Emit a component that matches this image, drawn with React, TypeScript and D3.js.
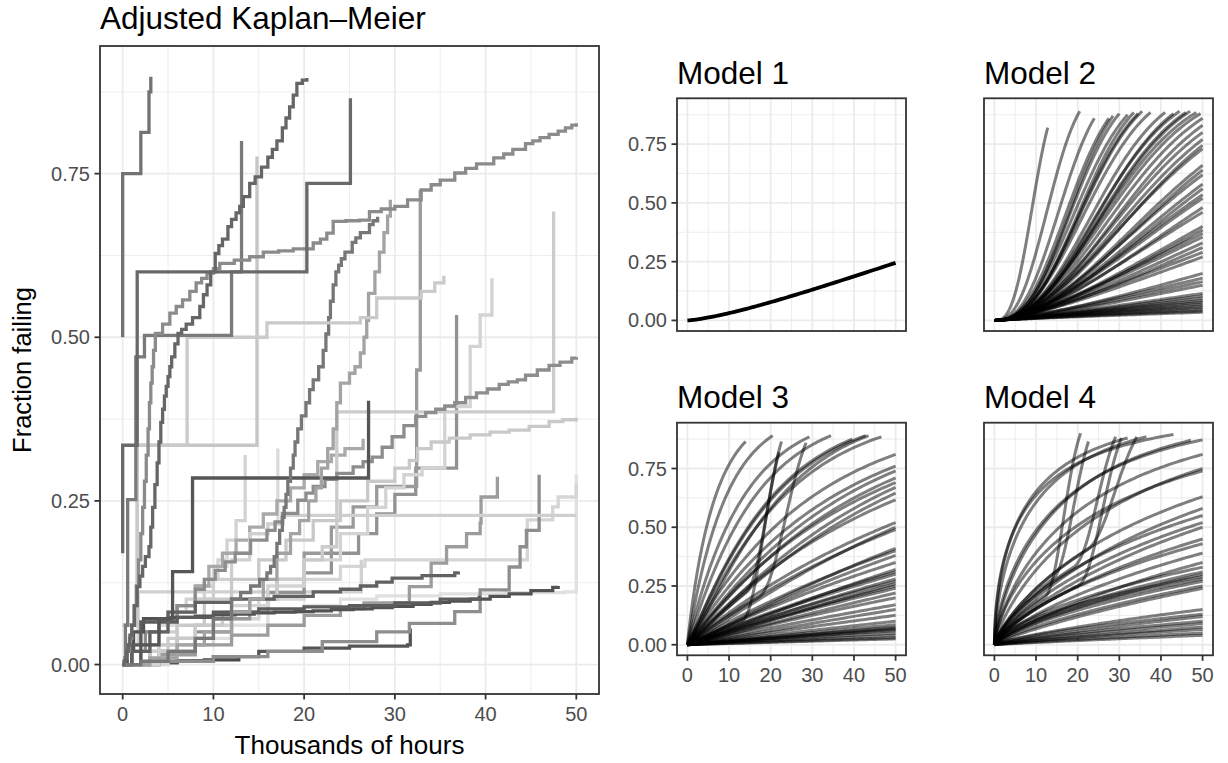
import React from "react";
import * as d3 from "d3";

const FONT = "'Liberation Sans', Arial, Helvetica, sans-serif";

// ---------- Kaplan–Meier step curves: [thousands of hours, fraction failing] ----------
const kmA = [[0,0.5],[0,0.75],[2.0,0.813],[2.9,0.875],[3.1,0.898]];
const kmB = [[0,0.17],[0,0.335],[1.6,0.6],[20.3,0.735],[25.1,0.865]];
const kmC = [[0,0],[0.15,0.005],[0.3,0.01],[0.45,0.02],[0.6,0.03],[0.8,0.045],[1.0,0.06],[1.3,0.09],[1.6,0.119],[1.9,0.135],[2.2,0.15],[2.5,0.165],[2.9,0.18],[3.1,0.21],[3.3,0.24],[3.55,0.275],[3.8,0.308],[4.0,0.34],[4.2,0.37],[4.4,0.39],[4.6,0.41],[4.8,0.425],[5.0,0.44],[5.2,0.455],[5.4,0.47],[5.75,0.49],[6.1,0.506],[6.5,0.512],[7.0,0.52],[7.7,0.53],[8.5,0.547],[8.9,0.565],[9.3,0.58],[9.7,0.6],[10.2,0.628],[10.6,0.64],[11.0,0.65],[11.6,0.669],[12.0,0.68],[12.5,0.69],[12.9,0.7],[13.3,0.715],[14.0,0.735],[14.6,0.745],[15.3,0.76],[16.0,0.775],[16.5,0.787],[17.0,0.8],[17.6,0.82],[18.0,0.835],[18.4,0.852],[18.8,0.87],[19.2,0.888],[19.8,0.893],[20.3,0.896]];
const kmD = [[0,0],[0.25,0.01],[0.5,0.02],[0.75,0.04],[1,0.06],[1.25,0.09],[1.5,0.12],[1.75,0.16],[2.0,0.2],[2.2,0.24],[2.4,0.28],[2.6,0.32],[2.8,0.36],[2.95,0.4],[3.1,0.43],[3.25,0.455],[3.4,0.48],[3.6,0.506],[4.4,0.52],[5.2,0.537],[5.9,0.547],[6.6,0.557],[7.4,0.57],[8.1,0.583],[8.7,0.59],[9.3,0.598],[10.0,0.605],[10.7,0.613],[12.3,0.618],[14,0.623],[15.5,0.63],[17.2,0.632],[18.8,0.635],[21,0.644],[21.8,0.65],[22.5,0.659],[23.2,0.677],[24.6,0.678],[26.1,0.679],[27.2,0.692],[28.5,0.696],[30,0.7],[31.4,0.71],[32.9,0.725],[34,0.733],[35,0.74],[36.6,0.751],[37.8,0.758],[39,0.765],[40.9,0.774],[42,0.78],[43,0.787],[44.4,0.796],[45.2,0.8],[46,0.805],[47,0.81],[48,0.815],[48.8,0.82],[49.5,0.824],[50,0.827]];
const kmE = [[0,0],[0.3,0.06],[0.55,0.252],[1.45,0.47],[2.4,0.503],[12,0.6],[13.1,0.8]];
const kmF = [[0,0.06],[1.6,0.335],[7.1,0.5],[15.9,0.522],[26.2,0.53],[28,0.56],[32.9,0.57],[34.4,0.583],[35.4,0.594]];
const kmG = [[0,0.06],[1.6,0.335],[14.8,0.776]];
const kmH = [[0,0],[2,0.005],[5,0.02],[8,0.04],[10,0.07],[12,0.1],[13,0.11],[14.1,0.12],[15.1,0.13],[15.9,0.14],[16.3,0.15],[16.7,0.165],[17.0,0.185],[17.3,0.205],[17.6,0.225],[17.8,0.24],[18.0,0.26],[18.2,0.28],[18.5,0.3],[18.8,0.32],[19.0,0.34],[19.3,0.36],[19.7,0.38],[20.2,0.4],[20.6,0.42],[21,0.435],[21.6,0.455],[22.1,0.48],[22.4,0.505],[22.7,0.53],[22.9,0.555],[23.2,0.58],[23.5,0.6],[23.8,0.61],[24.1,0.62],[24.5,0.63],[25.3,0.645],[25.7,0.652],[26.2,0.66],[27.2,0.672],[27.6,0.678],[28.1,0.684]];
const kmI = [[0,0],[3,0.01],[6,0.03],[9,0.05],[12,0.08],[14,0.1],[15.5,0.13],[17,0.17],[18.5,0.2],[19.5,0.22],[20.5,0.25],[21.3,0.27],[21.9,0.3],[22.6,0.33],[23.2,0.36],[23.6,0.4],[24,0.43],[25,0.445],[25.6,0.455],[26.2,0.476],[26.6,0.5],[26.9,0.526],[27.1,0.567],[27.8,0.6],[28.3,0.63],[28.8,0.66],[29.2,0.685],[29.5,0.71]];
const kmJ = [[0,0],[1,0.02],[2.5,0.05],[4,0.07],[6,0.09],[8,0.115],[9,0.13],[10.2,0.144],[11.3,0.157],[12.4,0.17],[14.1,0.19],[15.9,0.205],[16.8,0.218],[17.6,0.231],[19.3,0.251],[20.2,0.262],[21,0.272],[22.3,0.283],[23.6,0.292],[25.4,0.302],[26.5,0.31],[27.5,0.317],[28.6,0.332],[29.7,0.348],[31,0.365],[32.3,0.379],[33.4,0.385],[34.5,0.39],[35.5,0.395],[36.6,0.4],[37.8,0.408],[39,0.415],[40.2,0.421],[41.5,0.428],[42.5,0.432],[43.5,0.435],[44.4,0.442],[45.7,0.45],[47,0.457],[48.2,0.462],[49.5,0.468],[50,0.47]];
const kmK = [[0,0],[3,0.03],[6,0.06],[9,0.1],[12,0.13],[15,0.16],[18,0.19],[21,0.22],[24,0.25],[27,0.28],[30,0.3],[31.6,0.312],[32.5,0.33],[34,0.34],[36,0.346],[38.3,0.351],[40.5,0.355],[42.6,0.358],[44.8,0.364],[47,0.371],[48.5,0.374],[50,0.377]];
const kmL = [[0,0],[2,0.02],[4,0.05],[6,0.08],[8,0.1],[10,0.13],[12,0.16],[14,0.2],[16,0.215],[17.7,0.228],[50,0.228]];
const kmM = [[0,0],[0.5,0.02],[1.2,0.05],[2.3,0.07],[5,0.072],[8,0.074],[10,0.076],[12.4,0.077],[14.5,0.079],[16.7,0.08],[19,0.081],[21,0.082],[23,0.084],[25.4,0.085],[27.5,0.087],[29.7,0.089],[32,0.092],[34,0.095],[36,0.097],[38.3,0.1],[40.5,0.104],[42.6,0.108],[45,0.113],[47.4,0.118],[48,0.12]];
const kmN = [[0,0],[1,0.03],[2,0.065],[6,0.072],[10,0.08],[15,0.085],[20,0.088],[25,0.09],[30,0.094],[35,0.1],[39.3,0.105]];
const kmO = [[0,0],[1,0.02],[3,0.05],[5,0.08],[8,0.095],[12,0.1],[16.7,0.104],[21,0.111],[24,0.115],[26.2,0.12],[28,0.126],[29.7,0.132],[33,0.136],[36.6,0.14],[37,0.142]];
const kmP = [[0,0],[3,0.003],[6,0.006],[10,0.012],[15,0.02],[20,0.025],[25,0.028],[31.4,0.03],[31.7,0.055]];
const kmQ = [[0,0],[3,0.003],[6,0.005],[9,0.007],[12.8,0.01]];
const kmR = [[0,0],[2,0.03],[4,0.07],[5.5,0.142],[7.7,0.285],[27.1,0.403]];
const kmS = [[0,0],[2,0.02],[5,0.04],[8,0.06],[11,0.08],[14,0.1],[17,0.13],[20,0.16],[22,0.18],[23.6,0.195],[23.6,0.386],[47.5,0.692]];
const kmT = [[0,0],[4,0.03],[8,0.06],[12,0.09],[16,0.12],[20,0.16],[24,0.2],[27,0.24],[29,0.27],[31,0.29],[33,0.3],[35.5,0.394],[38.3,0.486],[39.4,0.534],[40.7,0.59]];
const kmU = [[0,0],[3,0.02],[6,0.04],[10,0.07],[14,0.1],[17,0.13],[20,0.17],[23,0.21],[25.4,0.241],[28,0.272],[32.4,0.45],[32.8,0.725]];
const kmV = [[0,0],[4,0.005],[10,0.012],[16,0.02],[22,0.035],[28,0.05],[31.6,0.063],[36.6,0.081],[39.4,0.114],[42.6,0.149],[43.8,0.18],[44.5,0.205],[45.9,0.29]];
const kmW = [[0,0],[4,0.015],[8,0.03],[12,0.045],[16,0.06],[20,0.075],[24,0.085],[26.6,0.094],[31.6,0.119],[34,0.155],[35.7,0.18],[37.9,0.2],[39.4,0.216],[39.5,0.256],[41.3,0.287]];
const kmX = [[0,0],[0.4,0.03],[1.7,0.111],[26.3,0.16]];
const kmY = [[0,0],[5,0.03],[10,0.07],[15,0.1],[20,0.13],[24,0.15],[26.7,0.16],[44.4,0.16],[44.6,0.221],[47.4,0.241],[48,0.256],[50,0.277]];
const kmZ = [[0,0],[4,0.02],[8,0.04],[12,0.06],[16,0.08],[20,0.09],[24,0.1],[28,0.105],[35,0.108],[42,0.11],[48.7,0.111],[50,0.29]];
const kmBB = [[0,0],[1,0.02],[3,0.05],[5,0.08],[7,0.1],[9,0.13],[10.5,0.16],[11.5,0.19],[12.5,0.22],[13.5,0.32]];
const kmCC = [[0,0],[2,0.03],[4,0.06],[6,0.09],[8,0.12],[10,0.15],[11.5,0.17],[14,0.2],[16,0.215],[17.1,0.33]];
const kmDD = [[0,0],[1,0.03],[2,0.05],[4,0.07],[6,0.09],[8,0.12],[9.5,0.15],[11,0.17],[12.5,0.19],[14,0.21],[15.5,0.23],[17,0.25],[18.5,0.27],[20,0.29],[21.5,0.31],[23,0.32],[24.5,0.33],[26.5,0.345]];
const kmAA = [[0,0],[4,0.02],[8,0.05],[12,0.08],[16,0.11],[20,0.14],[23,0.17],[26,0.2],[28,0.23],[30,0.26],[32.3,0.3],[36.8,0.534]];

const kmCurves = [kmQ, kmP, kmBB, kmCC, kmDD, kmZ, kmY, kmX, kmW, kmV, kmAA, kmU, kmT, kmS, kmL, kmK, kmJ, kmM, kmN, kmO, kmR, kmI, kmH, kmG, kmF, kmE, kmD, kmC, kmB, kmA];
const kmGrays = ["#4a4a4a", "#555555", "#d2d2d2", "#dadada", "#a9a9a9", "#e0e0e0", "#d5d5d5", "#d0d0d0", "#9c9c9c", "#8e8e8e", "#929292", "#9a9a9a", "#d3d3d3", "#cbcbcb", "#cfcfcf", "#c9c9c9", "#8d8d8d", "#525252", "#5c5c5c", "#626262", "#565656", "#a3a3a3", "#777777", "#c6c6c6", "#cacaca", "#7a7a7a", "#8b8b8b", "#666666", "#696969", "#727272"];

// ---------- fitted model curves: [end time, fraction failing at end, Weibull shape] ----------
const model1Curves = [[50, 0.245, 1.36]];
const model2Curves = [
  [12.8,0.82,2.8],[20.5,0.89,2.6],[24,0.86,2.6],[27.5,0.86,2.5],[28.5,0.87,2.6],[30,0.88,2.5],[32,0.875,2.4],[33.5,0.885,2.5],[34.5,0.88,2.4],[35.5,0.89,2.4],[37.5,0.885,2.3],[41,0.885,2.3],[43,0.88,2.3],[44.5,0.89,2.2],[46,0.885,2.2],[47,0.89,2.2],[48.5,0.885,2.1],[49.5,0.88,2.1],
  [50,0.86,2.1],[50,0.83,2.1],[50,0.8,2.0],[50,0.77,2.0],[50,0.745,2.0],[50,0.73,1.9],[50,0.66,1.9],[50,0.64,1.9],[50,0.62,1.8],[50,0.58,1.8],[50,0.56,1.8],[50,0.535,1.7],[50,0.52,1.7],[50,0.48,1.7],[50,0.46,1.6],[50,0.4,1.6],[50,0.385,1.6],[50,0.37,1.5],[50,0.355,1.5],[50,0.33,1.5],[50,0.31,1.5],[50,0.29,1.4],[50,0.27,1.4],[50,0.2,1.4],[50,0.18,1.3],[50,0.165,1.3],[50,0.15,1.3],[50,0.115,1.2],[50,0.105,1.2],[50,0.095,1.2],[50,0.085,1.1],[50,0.078,1.1],[50,0.07,1.1],[50,0.062,1.0],[50,0.055,1.0],[50,0.048,1.0],[50,0.04,0.9],[50,0.035,0.9]
];
const model3Curves = [
  [14,0.865,0.95],[20.5,0.89,1.0],[34.5,0.89,1.05],[39.6,0.875,1.1],[42.8,0.89,1.1],[46.6,0.885,1.1],[43.5,0.89,1.2],[29.3,0.885,1.0],
  [50,0.81,1.0],[50,0.76,1.0],[50,0.74,1.05],[50,0.71,1.05],[50,0.69,1.0],[50,0.67,1.1],[50,0.645,1.1],[50,0.617,1.0],[50,0.52,1.0],[50,0.5,1.1],[50,0.49,1.0],[50,0.41,1.1],[50,0.4,1.0],[50,0.38,1.05],[50,0.35,1.0],[50,0.32,1.1],[50,0.31,1.0],[50,0.3,1.0],[50,0.28,1.05],[50,0.27,1.0],[50,0.26,1.1],[50,0.25,1.0],[50,0.24,1.0],[50,0.22,1.05],[50,0.2,1.0],[50,0.17,1.0],[50,0.15,1.05],[50,0.125,1.0],[50,0.1,1.0],[50,0.085,1.0],[50,0.075,1.0],[50,0.07,1.0],[50,0.065,1.0],[50,0.06,0.95],[50,0.05,1.0],[50,0.04,1.0],[50,0.03,1.0],[50,0.025,1.0]
];
// [end time, end fraction, shape, time the hazard starts rising, fraction at that time]
const model3Kinked = [[22.6,0.865,1.0,13,0.1],[28.5,0.86,1.0,17,0.2],[22,0.82,1.0,14,0.22]];
const model4Curves = [
  [43,0.895,0.55],[36.5,0.885,0.65],[47.2,0.87,0.75],[32,0.88,0.6],
  [50,0.872,0.7],[50,0.81,0.75],[50,0.75,0.8],[50,0.74,0.7],[50,0.63,0.8],[50,0.58,0.85],[50,0.55,0.75],[50,0.52,0.8],[50,0.5,0.85],[50,0.45,0.8],[50,0.43,0.75],[50,0.39,0.8],[50,0.35,0.85],[50,0.33,0.7],[50,0.31,0.75],[50,0.3,0.8],[50,0.29,0.65],[50,0.28,0.7],[50,0.27,0.75],[50,0.25,0.8],[50,0.24,0.85],[50,0.15,0.8],[50,0.13,0.75],[50,0.12,0.85],[50,0.1,0.8],[50,0.09,0.85],[50,0.075,0.9],[50,0.065,0.85],[50,0.05,0.9],[50,0.04,0.9]
];
const model4Kinked = [[20.7,0.9,0.8,12,0.2],[22.6,0.865,0.8,14,0.28],[29.1,0.885,0.8,19,0.33],[34.2,0.885,0.8,22,0.4],[30.5,0.88,0.8,20,0.25]];

const xMajor = [0, 10, 20, 30, 40, 50];
const xMinor = [5, 15, 25, 35, 45];
const yMajor = [0, 0.25, 0.5, 0.75];
const yMinor = [0.125, 0.375, 0.625, 0.875];
const yLabels = ["0.00", "0.25", "0.50", "0.75"];

function weibullPoints(spec) {
  const [tEnd, fEnd, k] = spec;
  const Hend = -Math.log(1 - fEnd);
  const pts = [];
  const N = 100;
  for (let i = 0; i <= N; i++) {
    const t = tEnd * Math.pow(i / N, 1.6);
    pts.push([t, 1 - Math.exp(-Hend * Math.pow(t / tEnd, k))]);
  }
  return pts;
}

// baseline Weibull hazard, with an extra hazard growing after the change time
function kinkedPoints(spec) {
  const [tEnd, fEnd, k, tc, fc] = spec;
  const Hc = -Math.log(1 - fc);
  const Hend = -Math.log(1 - fEnd);
  const base = (t) => Hc * Math.pow(t / tc, k);
  const A = (Hend - base(tEnd)) / Math.pow(tEnd - tc, 2.2);
  const pts = [];
  const N = 140;
  for (let i = 0; i <= N; i++) {
    const t = tEnd * Math.pow(i / N, 1.3);
    const H = base(t) + (t > tc ? A * Math.pow(t - tc, 2.2) : 0);
    pts.push([t, 1 - Math.exp(-H)]);
  }
  return pts;
}

function Panel({ left, top, width, height, title, titleGap, showX, showY, render }) {
  const x = d3.scaleLinear().domain([-2.5, 52.5]).range([left, left + width]);
  const y = d3.scaleLinear().domain([-0.045, 0.945]).range([top + height, top]);
  const id = "clip" + Math.round(left) + "_" + Math.round(top);
  return (
    <g>
      <defs>
        <clipPath id={id}>
          <rect x={left} y={top} width={width} height={height} />
        </clipPath>
      </defs>
      <rect x={left} y={top} width={width} height={height} fill="#ffffff" />
      {xMinor.map((v) => (
        <line key={"xm" + v} x1={x(v)} x2={x(v)} y1={top} y2={top + height} stroke="#ebebeb" strokeWidth={0.9} />
      ))}
      {yMinor.map((v) => (
        <line key={"ym" + v} x1={left} x2={left + width} y1={y(v)} y2={y(v)} stroke="#ebebeb" strokeWidth={0.9} />
      ))}
      {xMajor.map((v) => (
        <line key={"xM" + v} x1={x(v)} x2={x(v)} y1={top} y2={top + height} stroke="#ebebeb" strokeWidth={1.8} />
      ))}
      {yMajor.map((v) => (
        <line key={"yM" + v} x1={left} x2={left + width} y1={y(v)} y2={y(v)} stroke="#ebebeb" strokeWidth={1.8} />
      ))}
      <g clipPath={`url(#${id})`}>{render(x, y)}</g>
      <rect x={left} y={top} width={width} height={height} fill="none" stroke="#333333" strokeWidth={1.8} />
      {showX &&
        xMajor.map((v) => (
          <g key={"xt" + v}>
            <line x1={x(v)} x2={x(v)} y1={top + height} y2={top + height + 5.5} stroke="#333333" strokeWidth={1.8} />
            <text x={x(v)} y={top + height + 27} textAnchor="middle" fontSize={20} fill="#4d4d4d" fontFamily={FONT}>
              {String(v)}
            </text>
          </g>
        ))}
      {showY &&
        yMajor.map((v, i) => (
          <g key={"yt" + v}>
            <line x1={left - 5.5} x2={left} y1={y(v)} y2={y(v)} stroke="#333333" strokeWidth={1.8} />
            <text x={left - 10} y={y(v) + 7} textAnchor="end" fontSize={20} fill="#4d4d4d" fontFamily={FONT}>
              {yLabels[i]}
            </text>
          </g>
        ))}
      <text x={left} y={top - titleGap} fontSize={31.5} fill="#000000" fontFamily={FONT}>
        {title}
      </text>
    </g>
  );
}

export default function App() {
  const stepLine = (x, y) =>
    d3.line().x((d) => x(d[0])).y((d) => y(d[1])).curve(d3.curveStepAfter);
  const smoothLine = (x, y) =>
    d3.line().x((d) => x(d[0])).y((d) => y(d[1])).curve(d3.curveLinear);

  const modelLines = (curves, kinked, opacity, width) => (x, y) => {
    const gen = smoothLine(x, y);
    const all = curves.map(weibullPoints).concat((kinked || []).map(kinkedPoints));
    return all.map((pts, i) => (
      <path key={i} d={gen(pts)} fill="none" stroke="#000000" strokeOpacity={opacity} strokeWidth={width} />
    ));
  };

  return (
    <svg width={1228} height={763} style={{ position: "absolute", left: 0, top: 0 }}>
      <rect x={0} y={0} width={1228} height={763} fill="#ffffff" />
      <Panel
        left={100}
        top={46}
        width={499}
        height={648}
        title="Adjusted Kaplan–Meier"
        titleGap={17}
        showX={true}
        showY={true}
        render={(x, y) => {
          const gen = stepLine(x, y);
          return kmCurves.map((c, i) => (
            <path key={i} d={gen(c)} fill="none" stroke={kmGrays[i]} strokeWidth={3.3} />
          ));
        }}
      />
      <text x={349.5} y={754} textAnchor="middle" fontSize={26} fill="#000000" fontFamily={FONT}>
        Thousands of hours
      </text>
      <text transform="translate(31,370) rotate(-90)" textAnchor="middle" fontSize={25.5} fill="#000000" fontFamily={FONT}>
        Fraction failing
      </text>
      <Panel left={677} top={98.3} width={229} height={232.7} title="Model 1" titleGap={14.5} showX={false} showY={true}
        render={modelLines(model1Curves, [], 1, 3.8)} />
      <Panel left={984} top={98.3} width={229} height={232.7} title="Model 2" titleGap={14.5} showX={false} showY={false}
        render={modelLines(model2Curves, [], 0.5, 3)} />
      <Panel left={677} top={422.7} width={229} height={232.6} title="Model 3" titleGap={14.5} showX={true} showY={true}
        render={modelLines(model3Curves, model3Kinked, 0.5, 3)} />
      <Panel left={984} top={422.7} width={229} height={232.6} title="Model 4" titleGap={14.5} showX={true} showY={false}
        render={modelLines(model4Curves, model4Kinked, 0.5, 3)} />
    </svg>
  );
}
